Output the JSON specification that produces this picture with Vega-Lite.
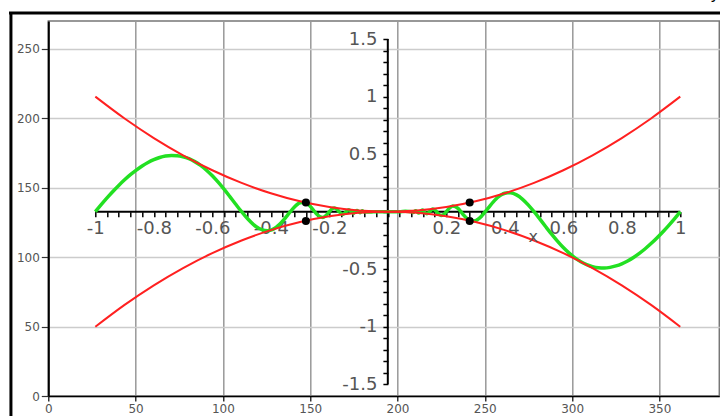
{
  "$schema": "https://vega.github.io/schema/vega-lite/v6.json",
  "width": 671,
  "height": 375,
  "autosize": "none",
  "padding": {"left": 48.3, "top": 21, "right": 0.7, "bottom": 20},
  "background": "white",
  "config": {"view": {"stroke": "#777", "strokeWidth": 1.5}, "font": "DejaVu Sans"},
  "datasets": {
    "frame": [
      {"x": -22.5, "y": 275.8, "x2": 384.8, "y2": 275.8},
      {"x": -21.4, "y": 276.5, "x2": -21.4, "y2": -15}
    ],
    "corner": [{"x": 381.8, "y": 285.8, "label": "y"}],
    "maxes": [
      {"x": -1, "y": 0, "x2": 1, "y2": 0},
      {"x": 0, "y": -1.5, "x2": 0, "y2": 1.5}
    ],
    "envelope": [
      {"x": -1, "y": 1, "branch": "upper"}, {"x": -0.9, "y": 0.81, "branch": "upper"}, {"x": -0.8, "y": 0.64, "branch": "upper"}, {"x": -0.7, "y": 0.49, "branch": "upper"}, {"x": -0.6, "y": 0.36, "branch": "upper"}, {"x": -0.5, "y": 0.25, "branch": "upper"}, {"x": -0.4, "y": 0.16, "branch": "upper"}, {"x": -0.3, "y": 0.09, "branch": "upper"}, {"x": -0.2, "y": 0.04, "branch": "upper"}, {"x": -0.1, "y": 0.01, "branch": "upper"}, {"x": 0, "y": 0, "branch": "upper"}, {"x": 0.1, "y": 0.01, "branch": "upper"}, {"x": 0.2, "y": 0.04, "branch": "upper"}, {"x": 0.3, "y": 0.09, "branch": "upper"}, {"x": 0.4, "y": 0.16, "branch": "upper"}, {"x": 0.5, "y": 0.25, "branch": "upper"}, {"x": 0.6, "y": 0.36, "branch": "upper"}, {"x": 0.7, "y": 0.49, "branch": "upper"}, {"x": 0.8, "y": 0.64, "branch": "upper"}, {"x": 0.9, "y": 0.81, "branch": "upper"}, {"x": 1, "y": 1, "branch": "upper"},
      {"x": -1, "y": -1, "branch": "lower"}, {"x": -0.9, "y": -0.81, "branch": "lower"}, {"x": -0.8, "y": -0.64, "branch": "lower"}, {"x": -0.7, "y": -0.49, "branch": "lower"}, {"x": -0.6, "y": -0.36, "branch": "lower"}, {"x": -0.5, "y": -0.25, "branch": "lower"}, {"x": -0.4, "y": -0.16, "branch": "lower"}, {"x": -0.3, "y": -0.09, "branch": "lower"}, {"x": -0.2, "y": -0.04, "branch": "lower"}, {"x": -0.1, "y": -0.01, "branch": "lower"}, {"x": 0, "y": 0, "branch": "lower"}, {"x": 0.1, "y": -0.01, "branch": "lower"}, {"x": 0.2, "y": -0.04, "branch": "lower"}, {"x": 0.3, "y": -0.09, "branch": "lower"}, {"x": 0.4, "y": -0.16, "branch": "lower"}, {"x": 0.5, "y": -0.25, "branch": "lower"}, {"x": 0.6, "y": -0.36, "branch": "lower"}, {"x": 0.7, "y": -0.49, "branch": "lower"}, {"x": 0.8, "y": -0.64, "branch": "lower"}, {"x": 0.9, "y": -0.81, "branch": "lower"}, {"x": 1, "y": -1, "branch": "lower"}
    ],
    "f": [
      {"x": -1, "y": 0}, {"x": -0.98, "y": 0.0615}, {"x": -0.96, "y": 0.1203}, {"x": -0.94, "y": 0.176}, {"x": -0.92, "y": 0.2284}, {"x": -0.9, "y": 0.277}, {"x": -0.88, "y": 0.3217}, {"x": -0.86, "y": 0.362}, {"x": -0.84, "y": 0.3975}, {"x": -0.82, "y": 0.4279}, {"x": -0.8, "y": 0.4526}, {"x": -0.78, "y": 0.4713}, {"x": -0.76, "y": 0.4835}, {"x": -0.74, "y": 0.489}, {"x": -0.72, "y": 0.4871}, {"x": -0.7, "y": 0.4777}, {"x": -0.68, "y": 0.4604}, {"x": -0.66, "y": 0.4351}, {"x": -0.64, "y": 0.4017}, {"x": -0.62, "y": 0.3604}, {"x": -0.6, "y": 0.3118}, {"x": -0.58, "y": 0.2561}, {"x": -0.56, "y": 0.1955}, {"x": -0.54, "y": 0.1309}, {"x": -0.52, "y": 0.0647}, {"x": -0.5, "y": 0}, {"x": -0.48, "y": -0.0596}, {"x": -0.46, "y": -0.1099}, {"x": -0.44, "y": -0.1463}, {"x": -0.42, "y": -0.1642}, {"x": -0.41, "y": -0.165}, {"x": -0.4, "y": -0.16}, {"x": -0.39, "y": -0.149}, {"x": -0.38, "y": -0.1322}, {"x": -0.37, "y": -0.1101}, {"x": -0.36, "y": -0.0833}, {"x": -0.35, "y": -0.0531}, {"x": -0.34, "y": -0.0212}, {"x": -0.3333, "y": 0}, {"x": -0.32, "y": 0.0392}, {"x": -0.31, "y": 0.0626}, {"x": -0.3, "y": 0.0779}, {"x": -0.2857, "y": 0.0816}, {"x": -0.28, "y": 0.0764}, {"x": -0.27, "y": 0.0585}, {"x": -0.26, "y": 0.0314}, {"x": -0.25, "y": 0}, {"x": -0.24, "y": -0.0288}, {"x": -0.2222, "y": -0.0494}, {"x": -0.21, "y": -0.03}, {"x": -0.2, "y": 0}, {"x": -0.19, "y": 0.0266}, {"x": -0.1818, "y": 0.0331}, {"x": -0.17, "y": 0.0104}, {"x": -0.1667, "y": 0}, {"x": -0.1538, "y": -0.0237}, {"x": -0.1429, "y": 0}, {"x": -0.1333, "y": 0.0178}, {"x": -0.125, "y": 0}, {"x": -0.1176, "y": -0.0138}, {"x": -0.1111, "y": 0}, {"x": -0.1053, "y": 0.0111}, {"x": -0.1, "y": 0}, {"x": -0.0952, "y": -0.0091}, {"x": -0.0909, "y": 0}, {"x": -0.087, "y": 0.0076}, {"x": -0.0833, "y": 0}, {"x": -0.06, "y": -0.0031}, {"x": -0.04, "y": 0},
      {"x": 0, "y": 0},
      {"x": 0.04, "y": 0}, {"x": 0.06, "y": 0.0031}, {"x": 0.0833, "y": 0}, {"x": 0.087, "y": -0.0076}, {"x": 0.0909, "y": 0}, {"x": 0.0952, "y": 0.0091}, {"x": 0.1, "y": 0}, {"x": 0.1053, "y": -0.0111}, {"x": 0.1111, "y": 0}, {"x": 0.1176, "y": 0.0138}, {"x": 0.125, "y": 0}, {"x": 0.1333, "y": -0.0178}, {"x": 0.1429, "y": 0}, {"x": 0.1538, "y": 0.0237}, {"x": 0.1667, "y": 0}, {"x": 0.17, "y": -0.0104}, {"x": 0.1818, "y": -0.0331}, {"x": 0.19, "y": -0.0266}, {"x": 0.2, "y": 0}, {"x": 0.21, "y": 0.03}, {"x": 0.2222, "y": 0.0494}, {"x": 0.24, "y": 0.0288}, {"x": 0.25, "y": 0}, {"x": 0.26, "y": -0.0314}, {"x": 0.27, "y": -0.0585}, {"x": 0.28, "y": -0.0764}, {"x": 0.2857, "y": -0.0816}, {"x": 0.3, "y": -0.0779}, {"x": 0.31, "y": -0.0626}, {"x": 0.32, "y": -0.0392}, {"x": 0.3333, "y": 0}, {"x": 0.34, "y": 0.0212}, {"x": 0.35, "y": 0.0531}, {"x": 0.36, "y": 0.0833}, {"x": 0.37, "y": 0.1101}, {"x": 0.38, "y": 0.1322}, {"x": 0.39, "y": 0.149}, {"x": 0.4, "y": 0.16}, {"x": 0.41, "y": 0.165}, {"x": 0.42, "y": 0.1642}, {"x": 0.44, "y": 0.1463}, {"x": 0.46, "y": 0.1099}, {"x": 0.48, "y": 0.0596}, {"x": 0.5, "y": 0}, {"x": 0.52, "y": -0.0647}, {"x": 0.54, "y": -0.1309}, {"x": 0.56, "y": -0.1955}, {"x": 0.58, "y": -0.2561}, {"x": 0.6, "y": -0.3118}, {"x": 0.62, "y": -0.3604}, {"x": 0.64, "y": -0.4017}, {"x": 0.66, "y": -0.4351}, {"x": 0.68, "y": -0.4604}, {"x": 0.7, "y": -0.4777}, {"x": 0.72, "y": -0.4871}, {"x": 0.74, "y": -0.489}, {"x": 0.76, "y": -0.4835}, {"x": 0.78, "y": -0.4713}, {"x": 0.8, "y": -0.4526}, {"x": 0.82, "y": -0.4279}, {"x": 0.84, "y": -0.3975}, {"x": 0.86, "y": -0.362}, {"x": 0.88, "y": -0.3217}, {"x": 0.9, "y": -0.277}, {"x": 0.92, "y": -0.2284}, {"x": 0.94, "y": -0.176}, {"x": 0.96, "y": -0.1203}, {"x": 0.98, "y": -0.0615}, {"x": 1, "y": 0}
    ],
    "pts": [
      {"x": -0.28, "y": 0.08}, {"x": -0.28, "y": -0.08}, {"x": 0.28, "y": 0.08}, {"x": 0.28, "y": -0.08}
    ],
    "xlabel": [{"x": 0.497, "y": -0.22, "label": "x"}]
  },
  "layer": [
    {
      "layer": [
        {
          "data": {"name": "frame"},
          "mark": {"type": "rule", "color": "black", "strokeWidth": 3},
          "encoding": {
            "x": {"field": "x", "type": "quantitative", "title": null,
              "scale": {"domain": [0, 384.3], "nice": false, "zero": false},
              "axis": {"orient": "bottom", "values": [0, 50, 100, 150, 200, 250, 300, 350], "grid": true, "gridColor": "#999", "gridWidth": 1.5, "tickSize": 5, "tickColor": "black", "tickWidth": 1.2, "domainColor": "black", "domainWidth": 1.5, "labelFont": "DejaVu Sans", "labelFontSize": 12, "labelColor": "#555", "labelPadding": 2, "labelFlush": false, "labelOverlap": false, "title": null, "zindex": 0}},
            "y": {"field": "y", "type": "quantitative", "title": null,
              "scale": {"domain": [0, 270], "nice": false, "zero": false},
              "axis": {"orient": "left", "values": [0, 50, 100, 150, 200, 250], "grid": true, "gridColor": "#ccc", "gridWidth": 1.5, "tickSize": 7, "tickColor": "#333", "tickWidth": 1.2, "domainColor": "black", "domainWidth": 2, "labelFont": "DejaVu Sans", "labelFontSize": 12, "labelColor": "#555", "labelPadding": 2, "labelFlush": false, "labelOverlap": false, "title": null, "zindex": 0}},
            "x2": {"field": "x2"},
            "y2": {"field": "y2"}
          }
        },
        {
          "data": {"name": "corner"},
          "mark": {"type": "text", "fontSize": 16, "color": "black", "align": "center", "baseline": "alphabetic"},
          "encoding": {
            "x": {"field": "x", "type": "quantitative", "title": null, "scale": {"domain": [0, 384.3], "nice": false, "zero": false}},
            "y": {"field": "y", "type": "quantitative", "title": null, "scale": {"domain": [0, 270], "nice": false, "zero": false}},
            "text": {"field": "label"}
          }
        }
      ]
    },
    {
      "layer": [
        {
          "data": {"name": "maxes"},
          "mark": {"type": "rule", "color": "black", "strokeWidth": 2},
          "encoding": {
            "x": {"field": "x", "type": "quantitative", "title": null,
              "scale": {"domain": [-1.1608, 1.1334], "nice": false, "zero": false},
              "axis": {"orient": "bottom", "offset": -184.3, "domain": false, "grid": false, "tickCount": 200, "values": [-1, -0.96, -0.92, -0.88, -0.84, -0.8, -0.76, -0.72, -0.68, -0.64, -0.6, -0.56, -0.52, -0.48, -0.44, -0.4, -0.36, -0.32, -0.28, -0.24, -0.2, -0.16, -0.12, -0.08, -0.04, 0, 0.04, 0.08, 0.12, 0.16, 0.2, 0.24, 0.28, 0.32, 0.36, 0.4, 0.44, 0.48, 0.52, 0.56, 0.6, 0.64, 0.68, 0.72, 0.76, 0.8, 0.84, 0.88, 0.92, 0.96, 1], "labelExpr": "(abs(round(datum.value * 5) - datum.value * 5) < 0.001 && abs(datum.value) > 0.001) ? '' + datum.value : ''", "tickSize": 5, "tickColor": "black", "tickWidth": 1.5, "labelFont": "DejaVu Sans", "labelFontSize": 18, "labelColor": "#555", "labelPadding": 3, "labelFlush": false, "labelOverlap": false, "labelBound": false, "title": null, "zindex": 0}},
            "y": {"field": "y", "type": "quantitative", "title": null,
              "scale": {"domain": [-1.6012, 1.6568], "nice": false, "zero": false},
              "axis": {"orient": "left", "offset": -339.6, "domain": false, "grid": false, "tickCount": 200, "values": [-1.5, -1.4, -1.3, -1.2, -1.1, -1, -0.9, -0.8, -0.7, -0.6, -0.5, -0.4, -0.3, -0.2, -0.1, 0, 0.1, 0.2, 0.3, 0.4, 0.5, 0.6, 0.7, 0.8, 0.9, 1, 1.1, 1.2, 1.3, 1.4, 1.5], "labelExpr": "(abs(round(datum.value * 2) - datum.value * 2) < 0.001 && abs(datum.value) > 0.001) ? '' + datum.value : ''", "tickSize": 5, "tickColor": "black", "tickWidth": 1.5, "labelFont": "DejaVu Sans", "labelFontSize": 18, "labelColor": "#555", "labelPadding": 6, "labelFlush": false, "labelOverlap": false, "labelBound": false, "title": null, "zindex": 0}},
            "x2": {"field": "x2"},
            "y2": {"field": "y2"}
          }
        },
        {
          "data": {"name": "f"},
          "mark": {"type": "line", "color": "#22e022", "strokeWidth": 3.5, "interpolate": "monotone"},
          "encoding": {
            "x": {"field": "x", "type": "quantitative", "title": null, "scale": {"domain": [-1.1608, 1.1334], "nice": false, "zero": false}},
            "y": {"field": "y", "type": "quantitative", "title": null, "scale": {"domain": [-1.6012, 1.6568], "nice": false, "zero": false}}
          }
        },
        {
          "data": {"name": "envelope"},
          "mark": {"type": "line", "color": "#ff2020", "strokeWidth": 2, "interpolate": "monotone"},
          "encoding": {
            "x": {"field": "x", "type": "quantitative", "title": null, "scale": {"domain": [-1.1608, 1.1334], "nice": false, "zero": false}},
            "y": {"field": "y", "type": "quantitative", "title": null, "scale": {"domain": [-1.6012, 1.6568], "nice": false, "zero": false}},
            "detail": {"field": "branch", "type": "nominal"}
          }
        },
        {
          "data": {"name": "pts"},
          "mark": {"type": "circle", "color": "black", "size": 65, "opacity": 1},
          "encoding": {
            "x": {"field": "x", "type": "quantitative", "title": null, "scale": {"domain": [-1.1608, 1.1334], "nice": false, "zero": false}},
            "y": {"field": "y", "type": "quantitative", "title": null, "scale": {"domain": [-1.6012, 1.6568], "nice": false, "zero": false}}
          }
        },
        {
          "data": {"name": "xlabel"},
          "mark": {"type": "text", "fontSize": 16, "color": "#555", "align": "center", "baseline": "middle"},
          "encoding": {
            "x": {"field": "x", "type": "quantitative", "title": null, "scale": {"domain": [-1.1608, 1.1334], "nice": false, "zero": false}},
            "y": {"field": "y", "type": "quantitative", "title": null, "scale": {"domain": [-1.6012, 1.6568], "nice": false, "zero": false}},
            "text": {"field": "label"}
          }
        }
      ]
    }
  ],
  "resolve": {"scale": {"x": "independent", "y": "independent"}, "axis": {"x": "independent", "y": "independent"}}
}
